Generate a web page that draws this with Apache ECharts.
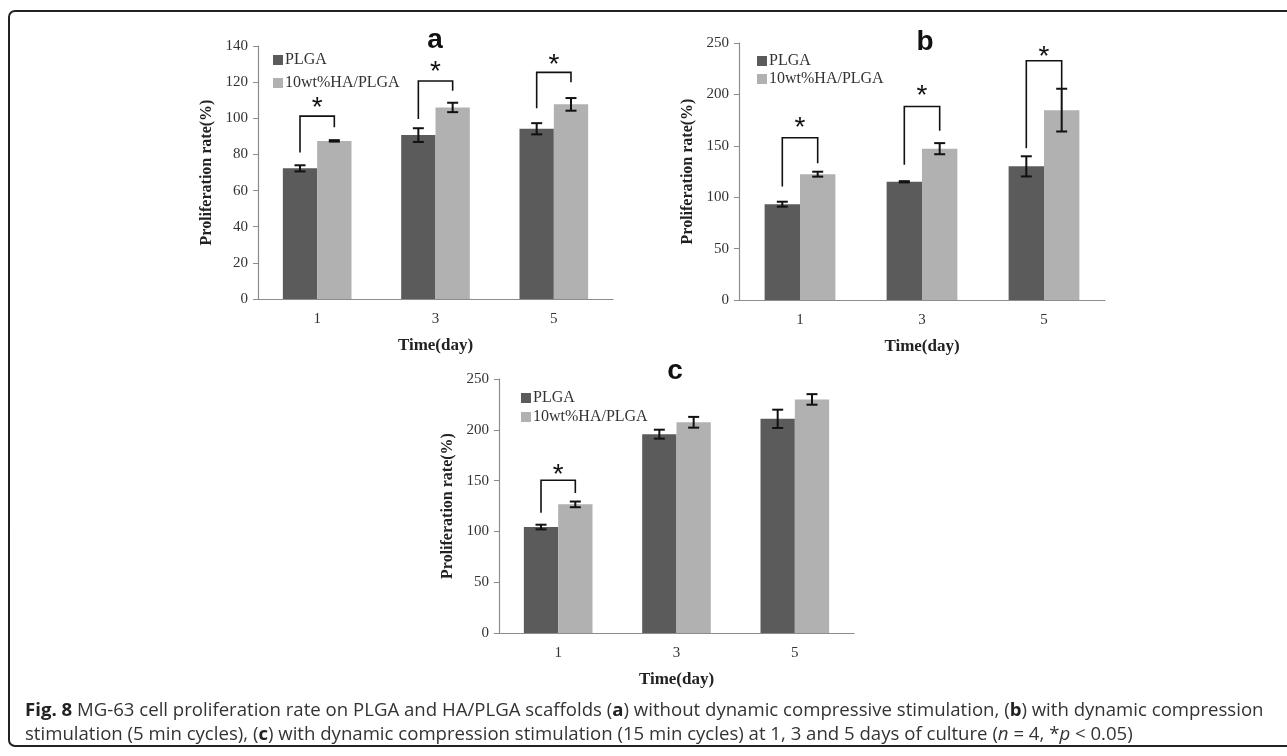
<!DOCTYPE html>
<html><head><meta charset="utf-8">
<script src="https://cdn.jsdelivr.net/npm/echarts@6/dist/echarts.min.js"></script>
<style>html,body{margin:0;padding:0;background:#fff}#c{width:1287px;height:756px}</style>
</head><body><div id="c"></div>
<script>
const categories = ['1', '3', '5'];
const seriesNames = ['PLGA', '10wt%HA/PLGA'];
// Panel a
const plgaA = [72.3, 90.7, 94.2];
const plgaErrA = [1.7, 3.8, 3.1];
const haA = [87.5, 106.0, 107.7];
const haErrA = [0.4, 2.6, 3.5];
// Panel b
const plgaB = [93.2, 115.0, 130.0];
const plgaErrB = [2.4, 0.6, 9.8];
const haB = [122.4, 147.2, 184.7];
const haErrB = [2.4, 5.4, 20.8];
// Panel c
const plgaC = [104.3, 195.7, 210.8];
const plgaErrC = [2.3, 4.4, 9.0];
const haC = [126.6, 207.4, 229.9];
const haErrC = [2.8, 5.3, 5.2];
// significance brackets: [category index, left foot, top, right foot, star level]
const bracketsA = [[0, 81.0, 101.2, 95.0, 109.2], [1, 99.6, 120.6, 115.2, 129.5], [2, 105.5, 125.4, 120.0, 133.2]];
const bracketsB = [[0, 110.4, 157.8, 133.1, 173.7], [1, 131.5, 188.3, 164.6, 204.5], [2, 147.7, 232.8, 206.2, 242.5]];
const bracketsC = [[0, 118.4, 150.3, 137.8, 161.8]];
// axis ranges
const yMaxA = 140, yStepA = 20;
const yMaxB = 250, yStepB = 50;
const yMaxC = 250, yStepC = 50;
const panelLetters = ['a', 'b', 'c'];
const xAxisName = 'Time(day)';
const yAxisName = 'Proliferation rate(%)';
const captionLine1 = '{b|Fig. 8} MG-63 cell proliferation rate on PLGA and HA/PLGA scaffolds ({b|a}) without dynamic compressive stimulation, ({b|b}) with dynamic compression';
const captionLine2 = 'stimulation (5 min cycles), ({b|c}) with dynamic compression stimulation (15 min cycles) at 1, 3 and 5 days of culture ({i|n} = 4, *{i|p} < 0.05)';

const DARK = '#5b5b5b', LIGHT = '#b1b1b1';
const SERIF = '"Liberation Serif", "Times New Roman", serif';
const SANS = '"Liberation Sans", Arial, sans-serif';
const CAP = '"Open Sans", sans-serif';
const CAPSIZE = 18.6;
const GAP = 0.42;

function errData(p, pe, h, he) {
  const d = [];
  p.forEach((v, i) => d.push([i, v, pe[i], -1]));
  h.forEach((v, i) => d.push([i, v, he[i], 1]));
  return d;
}
function errSeries(idx, data) {
  return {
    type: 'custom', xAxisIndex: idx, yAxisIndex: idx, z: 5, silent: true,
    encode: { x: 0, y: 1 }, data: data,
    renderItem: function (params, api) {
      const i = api.value(0), v = api.value(1), e = api.value(2), side = api.value(3);
      const band = api.size([1, 0])[0];
      const bw = band * (1 - GAP) / 2;
      const cx = api.coord([i, v])[0] + side * bw / 2;
      const yt = api.coord([i, v + e])[1];
      const yb = api.coord([i, v - e])[1];
      const cap = 5.5;
      const st = { stroke: '#111', lineWidth: 2 };
      return { type: 'group', children: [
        { type: 'line', shape: { x1: cx, y1: yt, x2: cx, y2: yb }, style: st },
        { type: 'line', shape: { x1: cx - cap, y1: yt, x2: cx + cap, y2: yt }, style: st },
        { type: 'line', shape: { x1: cx - cap, y1: yb, x2: cx + cap, y2: yb }, style: st }
      ]};
    }
  };
}
function bracketSeries(idx, data) {
  return {
    type: 'custom', xAxisIndex: idx, yAxisIndex: idx, z: 6, silent: true,
    encode: { x: 0, y: 2 }, data: data,
    renderItem: function (params, api) {
      const c = api.value(0);
      const band = api.size([1, 0])[0];
      const bw = band * (1 - GAP) / 2;
      const cx = api.coord([c, 0])[0];
      const xl = cx - bw / 2, xr = cx + bw / 2;
      const yl = api.coord([c, api.value(1)])[1];
      const yt = api.coord([c, api.value(2)])[1];
      const yr = api.coord([c, api.value(3)])[1];
      const ys = api.coord([c, api.value(4)])[1];
      return { type: 'group', children: [
        { type: 'polyline', shape: { points: [[xl, yl], [xl, yt], [xr, yt], [xr, yr]] },
          style: { stroke: '#111', lineWidth: 1.6, fill: null } },
        { type: 'text', style: { text: '*', x: (xl + xr) / 2, y: ys + 7, fontSize: 28,
          fontFamily: SANS, align: 'center', verticalAlign: 'middle', fill: '#111' } }
      ]};
    }
  };
}
function barSeries(idx, name, data, color) {
  return { type: 'bar', name: name, xAxisIndex: idx, yAxisIndex: idx, data: data,
    barGap: '0%', barCategoryGap: (GAP * 100) + '%', itemStyle: { color: color }, silent: true };
}
function xAx(idx) {
  return { type: 'category', gridIndex: idx, data: categories,
    name: xAxisName, nameLocation: 'middle', nameGap: 38,
    nameTextStyle: { fontFamily: SERIF, fontWeight: 'bold', fontSize: 17, color: '#222' },
    axisLine: { lineStyle: { color: '#8c8c8c', width: 1.2 } },
    axisTick: { length: 5, lineStyle: { color: '#8c8c8c' } },
    axisLabel: { fontFamily: SERIF, fontSize: 15, color: '#333', margin: 13 } };
}
function yAx(idx, max, step) {
  return { type: 'value', gridIndex: idx, min: 0, max: max, interval: step,
    name: yAxisName, nameLocation: 'middle', nameGap: 43,
    nameTextStyle: { fontFamily: SERIF, fontWeight: 'bold', fontSize: 16, color: '#222' },
    axisLine: { show: true, lineStyle: { color: '#8c8c8c', width: 1.2 } },
    axisTick: { show: true, length: 5, lineStyle: { color: '#8c8c8c' } },
    splitLine: { show: false },
    axisLabel: { fontFamily: SERIF, fontSize: 15, color: '#333', margin: 10 } };
}
function legend(left, top, gap) {
  return { left: left, top: top, orient: 'vertical', icon: 'rect', itemWidth: 10, itemHeight: 10,
    itemGap: gap, padding: 0, data: seriesNames, selectedMode: false,
    textStyle: { fontFamily: SERIF, fontSize: 16, color: '#333', lineHeight: 16, padding: [0, 0, 0, -3] } };
}
function titleText(letter, x, y) {
  return { type: 'text', x: x, y: y, style: { text: letter, fontFamily: SANS, fontWeight: 'bold',
    fontSize: 28, fill: '#111', align: 'center', verticalAlign: 'middle' } };
}

const chart = echarts.init(document.getElementById('c'), null, { renderer: 'canvas' });
chart.setOption({
  animation: false,
  backgroundColor: '#fff',
  color: [DARK, LIGHT],
  grid: [
    { left: 258, top: 46, width: 355, height: 253 },
    { left: 739, top: 43, width: 366, height: 257 },
    { left: 499, top: 379, width: 355, height: 254 }
  ],
  xAxis: [xAx(0), xAx(1), xAx(2)],
  yAxis: [yAx(0, yMaxA, yStepA), yAx(1, yMaxB, yStepB), yAx(2, yMaxC, yStepC)],
  legend: [legend(273, 52, 7), legend(757, 53, 2), legend(521, 390, 3)],
  series: [
    barSeries(0, seriesNames[0], plgaA, DARK), barSeries(0, seriesNames[1], haA, LIGHT),
    errSeries(0, errData(plgaA, plgaErrA, haA, haErrA)), bracketSeries(0, bracketsA),
    barSeries(1, seriesNames[0], plgaB, DARK), barSeries(1, seriesNames[1], haB, LIGHT),
    errSeries(1, errData(plgaB, plgaErrB, haB, haErrB)), bracketSeries(1, bracketsB),
    barSeries(2, seriesNames[0], plgaC, DARK), barSeries(2, seriesNames[1], haC, LIGHT),
    errSeries(2, errData(plgaC, plgaErrC, haC, haErrC)), bracketSeries(2, bracketsC)
  ],
  graphic: [
    { type: 'rect', shape: { x: 9, y: 11, width: 1400, height: 735, r: 6 }, silent: true,
      style: { fill: null, stroke: '#222', lineWidth: 2 } },
    titleText(panelLetters[0], 435, 40),
    titleText(panelLetters[1], 925, 42),
    titleText(panelLetters[2], 675, 371),
    { type: 'text', x: 25, y: 711, silent: true, style: {
      text: captionLine1, fontFamily: CAP, fontSize: CAPSIZE, fill: '#333', verticalAlign: 'middle',
      rich: { b: { fontFamily: CAP, fontSize: CAPSIZE, fontWeight: 'bold', fill: '#222' } } } },
    { type: 'text', x: 25, y: 735, silent: true, style: {
      text: captionLine2, fontFamily: CAP, fontSize: CAPSIZE, fill: '#333', verticalAlign: 'middle',
      rich: { b: { fontFamily: CAP, fontSize: CAPSIZE, fontWeight: 'bold', fill: '#222' },
              i: { fontFamily: CAP, fontSize: CAPSIZE, fontStyle: 'italic', fill: '#333' } } } }
  ]
});
</script></body></html>
